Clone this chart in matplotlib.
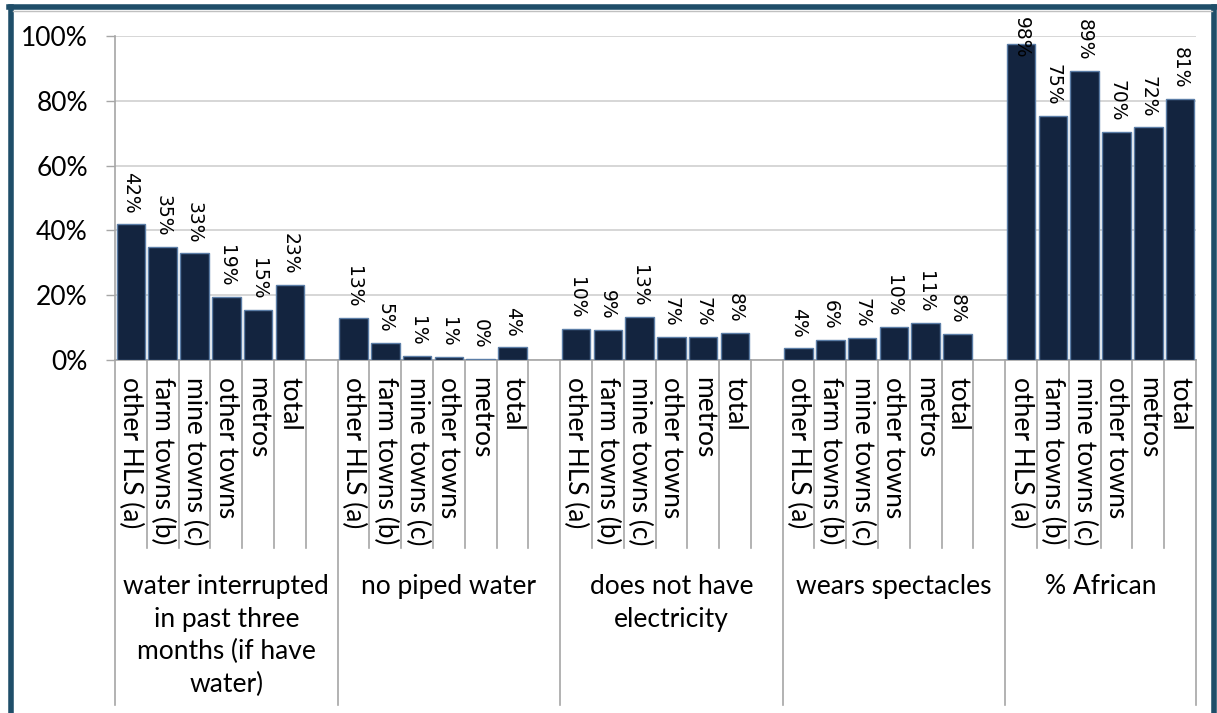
import matplotlib
matplotlib.use("Agg")
import matplotlib.pyplot as plt
from matplotlib.ticker import PercentFormatter
from matplotlib.lines import Line2D
import matplotlib.transforms as mtransforms

plt.rcParams['font.family'] = ['Lato', 'DejaVu Sans']

groups = ["water interrupted\nin past three\nmonths (if have\nwater)",
          "no piped water",
          "does not have\nelectricity",
          "wears spectacles",
          "% African"]
categories = ["other HLS (a)", "farm towns (b)", "mine towns (c)",
              "other towns", "metros", "total"]
values = [
    [0.419, 0.350, 0.329, 0.194, 0.154, 0.233],
    [0.130, 0.054, 0.013, 0.008, 0.002, 0.040],
    [0.097, 0.092, 0.134, 0.072, 0.070, 0.083],
    [0.038, 0.063, 0.068, 0.102, 0.114, 0.081],
    [0.976, 0.753, 0.891, 0.704, 0.718, 0.807],
]

W, H = 1217, 713
fig = plt.figure(figsize=(W / 100, H / 100), dpi=100)
ax = fig.add_axes([115 / W, 1 - 360 / H, (1196 - 115) / W, 324 / H])

bar_color = "#13243F"
edge_color = "#5B7DA6"
grid_color = "#D0D0D0"
axis_color = "#A6A6A6"

slot = 7
n_slots = slot * (len(groups) - 1) + len(categories)
positions, heights, labels = [], [], []
for g, vals in enumerate(values):
    for j, v in enumerate(vals):
        positions.append(g * slot + j)
        heights.append(v)
        labels.append(categories[j])

ax.bar(positions, heights, width=0.9, color=bar_color, edgecolor=edge_color,
       linewidth=1.0, zorder=3)

ax.set_xlim(-0.5, n_slots - 0.5)
ax.set_ylim(0, 1.0)

# value labels
label_len = 0.105
gap = 0.032
top_limit = 1.0 + (36 - 17) / 324
for x, v in zip(positions, heights):
    txt = f"{round(v * 100):.0f}%"
    if v + gap + label_len > top_limit:
        ax.text(x, top_limit, txt, rotation=-90, ha="center", va="top",
                fontsize=13.5, family="DejaVu Sans", clip_on=False, zorder=4)
    else:
        ax.text(x, v + gap, txt, rotation=-90, ha="center", va="bottom",
                fontsize=13.5, family="DejaVu Sans", zorder=4)

# y axis
ax.yaxis.set_major_formatter(PercentFormatter(1.0, decimals=0))
ax.set_yticks([0, 0.2, 0.4, 0.6, 0.8, 1.0])
ax.tick_params(axis="y", length=6.5, width=1, color=axis_color, pad=13,
               labelsize=19)
ax.grid(axis="y", color=grid_color, linewidth=1.2, zorder=0)
for s in ["top", "right"]:
    ax.spines[s].set_visible(False)
ax.spines["left"].set_color(axis_color)
ax.spines["bottom"].set_color(axis_color)
ax.spines["left"].set_linewidth(1.2)
ax.spines["bottom"].set_linewidth(1.2)

# x category labels
ax.set_xticks(positions)
ax.set_xticklabels(labels, rotation=-90, fontsize=19)
ax.tick_params(axis="x", length=0, pad=12)

# separators
trans = mtransforms.blended_transform_factory(ax.transData, ax.transAxes)
group_bounds = [g * slot - 0.5 for g in range(len(groups))] + [n_slots - 0.5]
short_y = (360 - 548) / 324
long_y = (360 - 705) / 324
for k in range(n_slots + 1):
    xb = k - 0.5
    is_group = any(abs(xb - gb) < 1e-9 for gb in group_bounds)
    y1 = long_y if is_group else short_y
    ax.add_line(Line2D([xb, xb], [0, y1], transform=trans, color=axis_color,
                       linewidth=1.2, clip_on=False))

# group labels
for g, name in enumerate(groups):
    left = group_bounds[g]
    right = group_bounds[g + 1]
    ax.text((left + right) / 2, (360 - 574) / 324, name, transform=trans,
            ha="center", va="top", fontsize=19, linespacing=1.38)

# outer frame
frame_color = "#1F4E69"
lw = 4.0
fig.add_artist(Line2D([10.5 / W, 10.5 / W], [0, 1 - 7 / H], color=frame_color,
                      linewidth=lw, transform=fig.transFigure))
fig.add_artist(Line2D([1214 / W, 1214 / W], [0, 1 - 7 / H], color=frame_color,
                      linewidth=lw, transform=fig.transFigure))
fig.add_artist(Line2D([8.5 / W, 1216 / W], [1 - 7 / H, 1 - 7 / H], color=frame_color,
                      linewidth=lw, transform=fig.transFigure))
fig.add_artist(Line2D([13 / W, 1212 / W], [1 - 10.5 / H, 1 - 10.5 / H], color="#C0C0C0",
                      linewidth=1, transform=fig.transFigure))

fig.savefig("out.png", dpi=100)
